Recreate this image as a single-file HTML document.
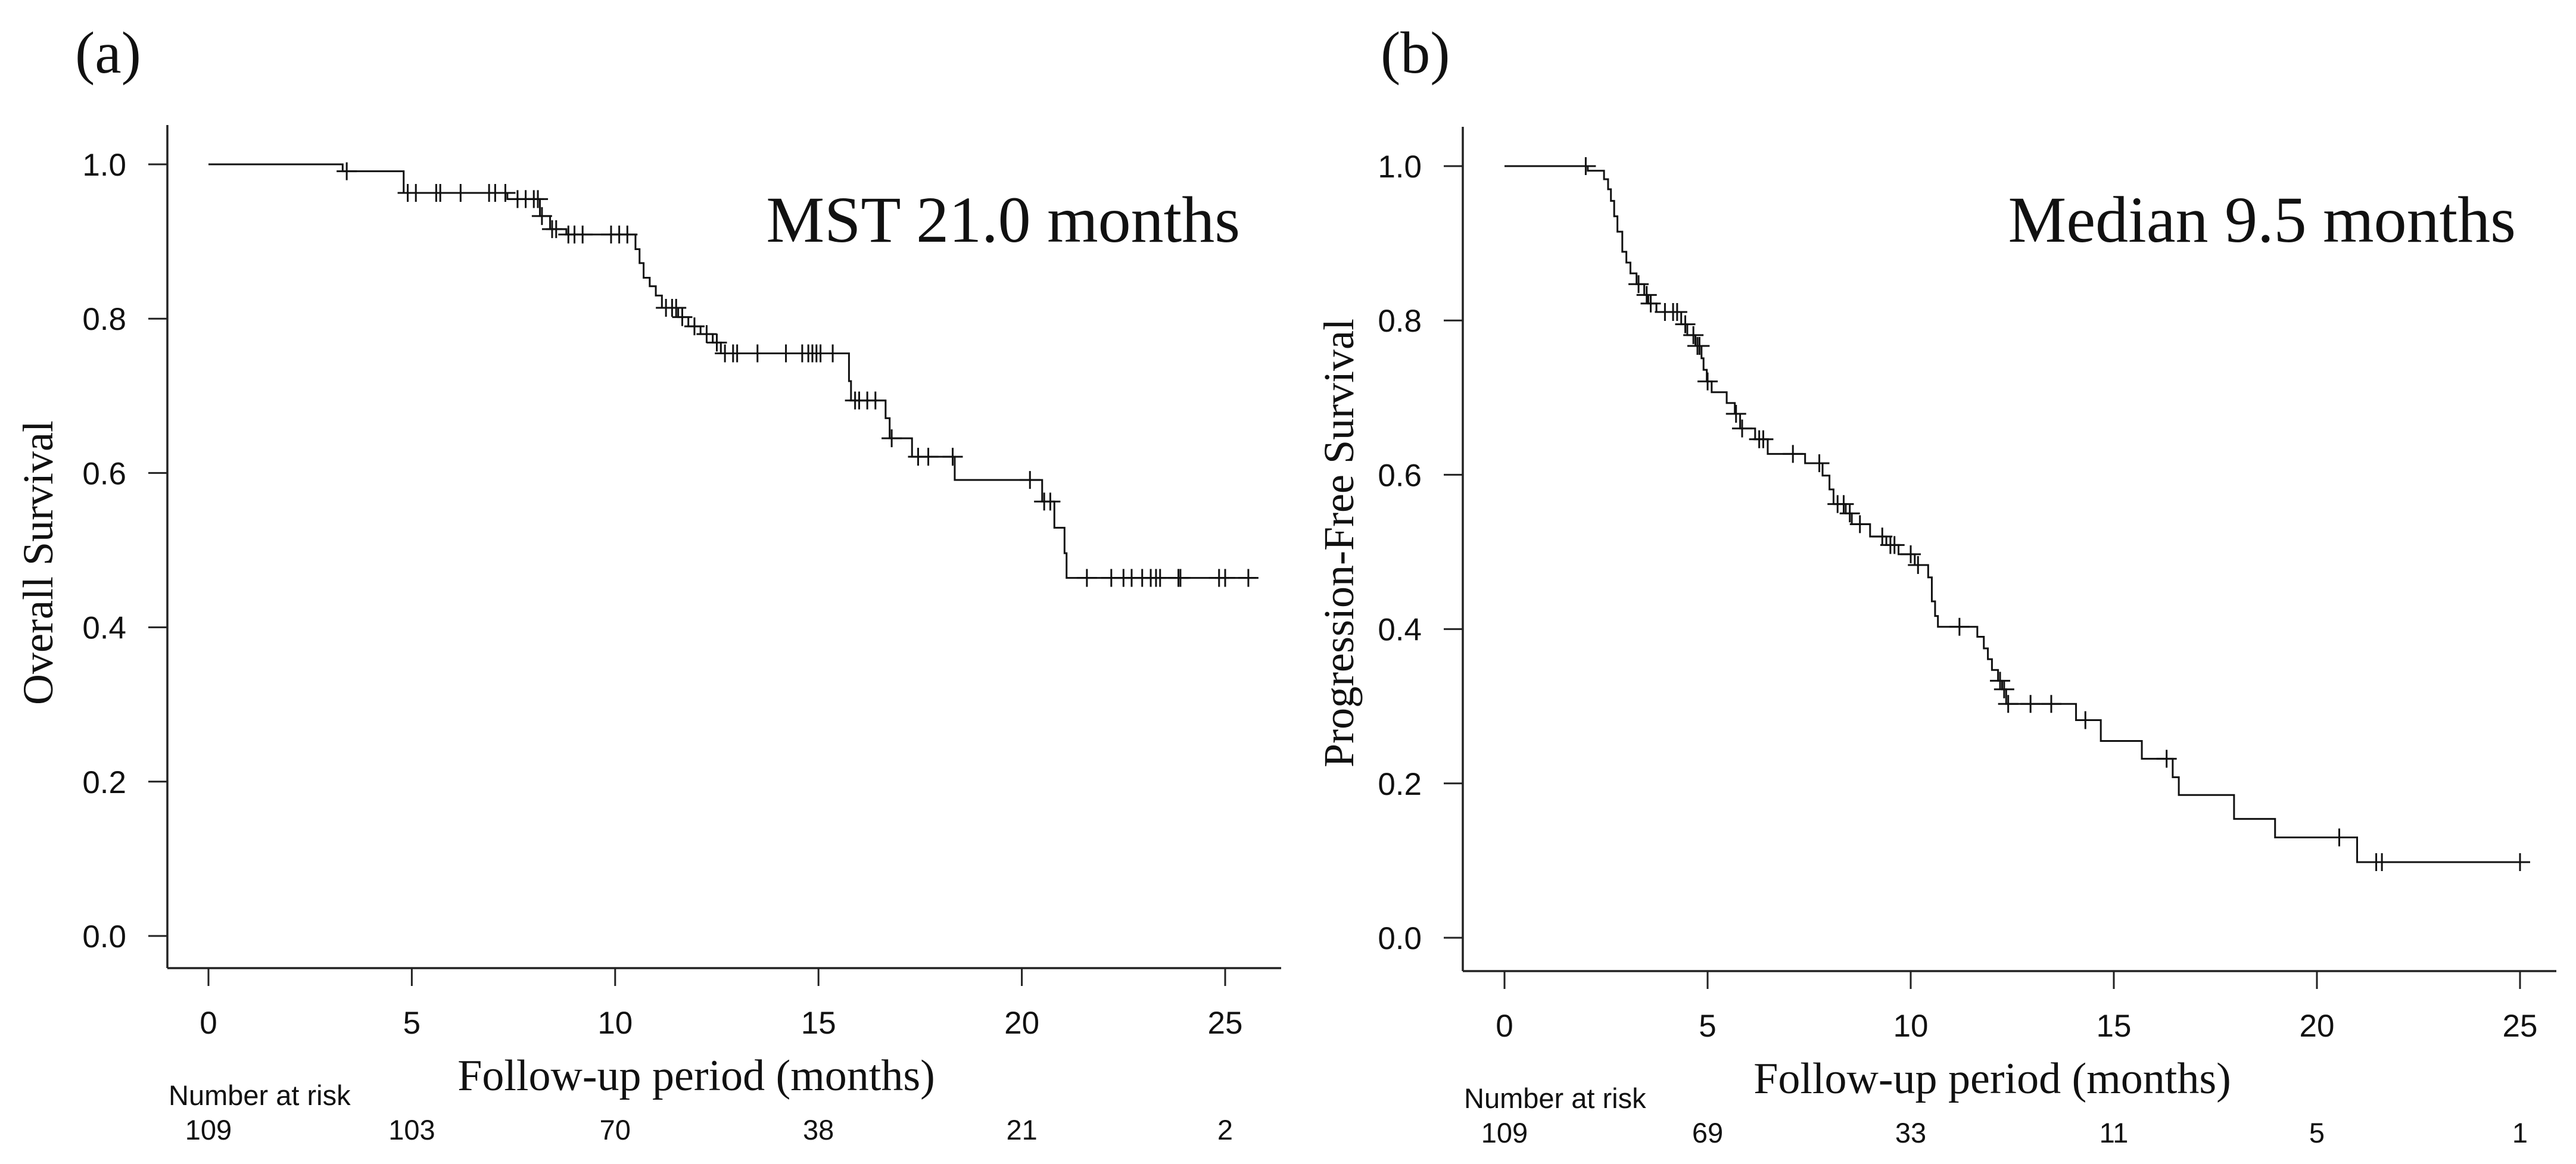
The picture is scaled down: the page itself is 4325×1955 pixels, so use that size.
<!DOCTYPE html>
<html><head><meta charset="utf-8"><style>
html,body{margin:0;padding:0;background:#fff;}
svg{display:block;}
.tk{font-family:"Liberation Sans",Arial,sans-serif;font-size:53px;fill:#111;}
.ser{font-family:"Liberation Serif","Times New Roman",serif;fill:#111;}
.risk{font-family:"Liberation Sans",Arial,sans-serif;font-size:47px;fill:#111;}
</style></head><body>
<svg id="fig" width="4325" height="1955" viewBox="0 0 4325 1955" xmlns="http://www.w3.org/2000/svg"></svg>
<script>
// ---- Panel A: Overall survival ----
const osTimes = [3.3,4.8,7.35,8.15,8.4,8.8,10.5,10.6,10.7,10.85,11.0,11.15,11.55,11.8,12.1,12.4,12.6,15.75,15.8,16.65,16.75,17.3,18.35,20.5,20.8,21.05,21.1];
const osSurv  = [0.991,0.963,0.955,0.933,0.916,0.909,0.890,0.872,0.853,0.842,0.830,0.814,0.802,0.790,0.780,0.769,0.755,0.719,0.694,0.671,0.645,0.621,0.591,0.563,0.529,0.496,0.464];
const osCensor = [3.4,4.9,5.1,5.6,5.7,6.2,6.9,7.05,7.3,7.6,7.8,8.0,8.1,8.2,8.45,8.55,8.85,9.0,9.2,9.9,10.1,10.3,11.25,11.4,11.5,11.65,11.95,12.25,12.5,12.7,12.9,13.0,13.5,14.2,14.6,14.75,14.85,14.95,15.05,15.35,15.9,16.0,16.2,16.4,16.8,17.45,17.7,18.3,20.2,20.55,20.7,21.6,22.2,22.5,22.7,22.96,23.17,23.3,23.4,23.85,23.9,24.85,25.0,25.57];
const osEnd = 25.77;
const osRiskVals = ["109","103","70","38","21","2"];
// ---- Panel B: Progression-free survival ----
const pfsTimes = [2.05,2.45,2.55,2.62,2.7,2.78,2.9,3.0,3.1,3.25,3.44,3.54,3.74,4.35,4.5,4.7,4.85,4.9,4.98,5.1,5.47,5.67,5.8,6.17,6.48,7.4,7.83,8.0,8.1,8.4,8.55,9.0,9.4,9.7,10.1,10.43,10.52,10.6,10.67,11.64,11.8,11.9,12.0,12.15,12.25,12.35,14.07,14.68,15.69,16.45,16.6,17.96,18.97,20.99];
const pfsSurv  = [0.994,0.983,0.97,0.955,0.935,0.915,0.889,0.875,0.861,0.847,0.833,0.822,0.811,0.795,0.781,0.767,0.751,0.736,0.721,0.707,0.693,0.679,0.660,0.646,0.627,0.615,0.599,0.581,0.562,0.550,0.536,0.520,0.509,0.497,0.483,0.467,0.436,0.417,0.403,0.390,0.375,0.361,0.347,0.333,0.322,0.303,0.282,0.255,0.232,0.208,0.185,0.154,0.130,0.098];
const pfsCensor = [2.0,3.3,3.5,3.6,3.95,4.15,4.25,4.45,4.65,4.75,4.8,5.0,5.7,5.85,6.27,6.37,7.1,7.75,8.2,8.35,8.5,8.75,9.3,9.5,9.6,10.0,10.18,11.2,12.2,12.3,12.4,12.95,13.46,14.3,16.3,20.55,21.46,21.6,25.0];
const pfsEnd = 25.24;
const pfsRiskVals = ["109","69","33","11","5","1"];
// ---- shared axis ticks ----
const xTicks = [0,5,10,15,20,25];
const yTicks = [0.0,0.2,0.4,0.6,0.8,1.0];
const yTickLabels = ["0.0","0.2","0.4","0.6","0.8","1.0"];

const NS='http://www.w3.org/2000/svg';
const svg=document.getElementById('fig');
function mk(tag,attrs,parent){const e=document.createElementNS(NS,tag);for(const k in attrs)e.setAttribute(k,attrs[k]);(parent||svg).appendChild(e);return e;}

function panel(cfg){
  const g=mk('g',{});
  
  
  const X=t=>cfg.x0+t*(cfg.x25-cfg.x0)/25;
  const Y=v=>cfg.y0+v*(cfg.y1-cfg.y0);
  const ya=mk('line',{x1:cfg.ax,y1:cfg.atop,x2:cfg.ax,y2:cfg.ab,stroke:'#222','stroke-width':3.5},g);
  
  
  const xa=mk('line',{x1:cfg.ax,y1:cfg.ab,x2:cfg.aright,y2:cfg.ab,stroke:'#222','stroke-width':3.5},g);
  
  
  yTicks.forEach((v,i)=>{
    mk('line',{x1:cfg.ax-32,y1:Y(v),x2:cfg.ax,y2:Y(v),stroke:'#222','stroke-width':3},g);
    const t=mk('text',{x:cfg.ax-69,y:Y(v)+19,'text-anchor':'end',class:'tk'},g);
    t.textContent=yTickLabels[i];
    
    
  });
  xTicks.forEach((v,i)=>{
    mk('line',{x1:X(v),y1:cfg.ab,x2:X(v),y2:cfg.ab+30,stroke:'#222','stroke-width':3},g);
    const t=mk('text',{x:X(v),y:cfg.ab+110,'text-anchor':'middle',class:'tk'},g);
    t.textContent=String(v);
    
    
    const r=mk('text',{x:X(v),y:cfg.ab+288,'text-anchor':'middle',class:'risk'},g);
    r.textContent=cfg.risk[i];
    
    
  });
  let d='M'+X(0)+','+Y(1);
  cfg.times.forEach((t,i)=>{d+=' H'+X(t)+' V'+Y(cfg.surv[i]);});
  d+=' H'+X(cfg.end);
  const p=mk('path',{d:d,fill:'none',stroke:'#111','stroke-width':3},g);
  
  
  const sAt=t=>{let v=1;cfg.times.forEach((tt,i)=>{if(tt<=t)v=cfg.surv[i];});return v;};
  cfg.censor.forEach(t=>{
    const cx=X(t),cy=Y(sAt(t));
    const c=mk('path',{d:`M${cx-17},${cy} H${cx+17} M${cx},${cy-15} V${cy+15}`,stroke:'#111','stroke-width':3,fill:'none'},g);
    
    
  });
  const pl=mk('text',{x:cfg.labX,y:122,class:'ser','font-size':100},g);
  pl.textContent=cfg.label;
  
  
  const an=mk('text',{x:cfg.annX,y:406,class:'ser','font-size':110,'text-anchor':'end'},g);
  an.textContent=cfg.ann;
  
  
  const yl=mk('text',{x:0,y:0,class:'ser','font-size':72,'text-anchor':'middle',transform:`translate(${cfg.ylX},${cfg.ylY}) rotate(-90)`},g);
  yl.textContent=cfg.ylab;
  
  
  const xl=mk('text',{x:cfg.xlX,y:cfg.ab+205,class:'ser','font-size':74,'text-anchor':'middle'},g);
  xl.textContent='Follow-up period (months)';
  
  
  const nr=mk('text',{x:cfg.ax+2,y:cfg.ab+230,class:'risk'},g);
  nr.textContent='Number at risk';
  
  
}

panel({name:'panel-a-overall-survival',x0:350,x25:2057,y0:1572,y1:276,ax:281,atop:210,ab:1626,aright:2151,
  times:osTimes,surv:osSurv,censor:osCensor,end:osEnd,risk:osRiskVals,label:'(a)',labX:126,
  ann:'MST 21.0 months',annX:2082,ylab:'Overall Survival',ylX:88,ylY:945,xlX:1169});
panel({name:'panel-b-progression-free-survival',x0:2526,x25:4231,y0:1575,y1:279,ax:2456,atop:213,ab:1631,aright:4292,
  times:pfsTimes,surv:pfsSurv,censor:pfsCensor,end:pfsEnd,risk:pfsRiskVals,label:'(b)',labX:2318,
  ann:'Median 9.5 months',annX:4224,ylab:'Progression-Free Survival',ylX:2272,ylY:912,xlX:3345});
</script>
</body></html>
